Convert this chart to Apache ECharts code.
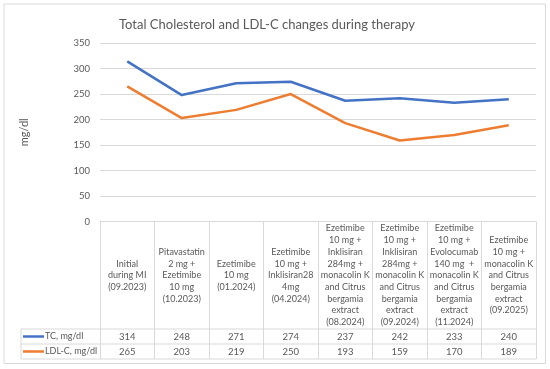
<!DOCTYPE html>
<html>
<head>
<meta charset="utf-8">
<script src="https://cdn.jsdelivr.net/npm/echarts@6/dist/echarts.min.js"></script>
<style>
html,body{margin:0;padding:0;background:#fff;}
#c{width:550px;height:369px;}
</style>
</head>
<body>
<div id="c"></div>
<script>
var titleText = 'Total Cholesterol and LDL-C changes during therapy';
var yAxisName = 'mg/dl';
var categories = [
  'Initial\nduring MI\n(09.2023)',
  'Pitavastatin\n2 mg +\nEzetimibe\n10 mg\n(10.2023)',
  'Ezetimibe\n10 mg\n(01.2024)',
  'Ezetimibe\n10 mg +\nInklisiran28\n4mg\n(04.2024)',
  'Ezetimibe\n10 mg +\nInklisiran\n284mg +\nmonacolin K\nand Citrus\nbergamia\nextract\n(08.2024)',
  'Ezetimibe\n10 mg +\nInklisiran\n284mg +\nmonacolin K\nand Citrus\nbergamia\nextract\n(09.2024)',
  'Ezetimibe\n10 mg +\nEvolocumab\n140 mg  +\nmonacolin K\nand Citrus\nbergamia\nextract\n(11.2024)',
  'Ezetimibe\n10 mg +\nmonacolin K\nand Citrus\nbergamia\nextract\n(09.2025)'
];
var seriesNames = ['TC, mg/dl', 'LDL-C, mg/dl'];
var tcValues = [314, 248, 271, 274, 237, 242, 233, 240];
var ldlValues = [265, 203, 219, 250, 193, 159, 170, 189];
var yTicks = [0, 50, 100, 150, 200, 250, 300, 350];

var FONT = 'Lato';
var TXT = '#595959';
var LINE = '#d9d9d9';
var gridLeft = 100, gridRight = 14, gridTop = 43, gridBottom = 147.3;
var W = 550, H = 369;
var axisY = H - gridBottom;           // 221.7
var headerH = 107.3;                  // header row height
var rowH = 15;
var tableLeft = 21;
var row1 = axisY + headerH, row2 = row1 + rowH, row3 = row2 + rowH;

var chart = echarts.init(document.getElementById('c'), null, {renderer: 'canvas'});
var option = {
  backgroundColor: '#fff',
  animation: false,
  title: {
    text: titleText, left: 114, top: 13,
    textStyle: {fontFamily: FONT, fontSize: 13, fontWeight: 'normal', color: TXT}
  },
  legend: [
    {data: [seriesNames[0]], left: 23, top: row1, orient: 'vertical', icon: 'rect', itemWidth: 21, itemHeight: 2.5, itemGap: 0,
     padding: 0, textStyle: {fontFamily: FONT, fontSize: 9, color: TXT, lineHeight: 15, padding: [0,0,0,-4]}},
    {data: [seriesNames[1]], left: 23, top: row2, orient: 'vertical', icon: 'rect', itemWidth: 21, itemHeight: 2.5, itemGap: 0,
     padding: 0, textStyle: {fontFamily: FONT, fontSize: 9, color: TXT, lineHeight: 15, padding: [0,0,0,-4]}}
  ],
  grid: {left: gridLeft, right: gridRight, top: gridTop, bottom: gridBottom, containLabel: false},
  xAxis: [
    {
      type: 'category', data: categories, boundaryGap: true,
      axisLine: {show: true, lineStyle: {color: LINE, width: 1}},
      axisTick: {show: true, length: headerH + 2 * rowH, lineStyle: {color: LINE, width: 1}},
      axisLabel: {interval: 0, fontFamily: FONT, fontSize: 9, color: TXT, lineHeight: 11.7,
                  align: 'center', verticalAlign: 'middle', margin: headerH / 2}
    },
    {
      type: 'category', data: categories, position: 'bottom', offset: headerH, boundaryGap: true,
      axisLine: {show: false}, axisTick: {show: false},
      axisLabel: {interval: 0, fontFamily: FONT, fontSize: 9.5, color: TXT, verticalAlign: 'middle', margin: rowH / 2,
                  formatter: function (v, i) { return String(tcValues[i]); }}
    },
    {
      type: 'category', data: categories, position: 'bottom', offset: headerH + rowH, boundaryGap: true,
      axisLine: {show: false}, axisTick: {show: false},
      axisLabel: {interval: 0, fontFamily: FONT, fontSize: 9.5, color: TXT, verticalAlign: 'middle', margin: rowH / 2,
                  formatter: function (v, i) { return String(ldlValues[i]); }}
    }
  ],
  yAxis: {
    type: 'value', min: yTicks[0], max: yTicks[yTicks.length - 1], interval: 50,
    name: yAxisName, nameLocation: 'middle', nameGap: 70, nameRotate: 90,
    nameTextStyle: {fontFamily: FONT, fontSize: 11, color: TXT},
    axisLine: {show: false}, axisTick: {show: false},
    axisLabel: {fontFamily: FONT, fontSize: 9.5, color: TXT, margin: 10},
    splitLine: {lineStyle: {color: LINE, width: 1}}
  },
  series: [
    {name: seriesNames[0], type: 'line', data: tcValues, xAxisIndex: 0, symbol: 'none',
     lineStyle: {color: '#4472C4', width: 2.5}, itemStyle: {color: '#4472C4'}},
    {name: seriesNames[1], type: 'line', data: ldlValues, xAxisIndex: 0, symbol: 'none',
     lineStyle: {color: '#ED7D31', width: 2.5}, itemStyle: {color: '#ED7D31'}}
  ],
  graphic: [
    {type: 'rect', silent: true, shape: {x: 4, y: 4, width: 541.5, height: 359.5},
     style: {fill: 'none', stroke: LINE, lineWidth: 1}},
    {type: 'line', silent: true, shape: {x1: tableLeft, y1: row1, x2: W - gridRight, y2: row1}, style: {stroke: LINE, lineWidth: 1}},
    {type: 'line', silent: true, shape: {x1: tableLeft, y1: row2, x2: W - gridRight, y2: row2}, style: {stroke: LINE, lineWidth: 1}},
    {type: 'line', silent: true, shape: {x1: tableLeft, y1: row3, x2: W - gridRight, y2: row3}, style: {stroke: LINE, lineWidth: 1}},
    {type: 'line', silent: true, shape: {x1: tableLeft, y1: row1, x2: tableLeft, y2: row3}, style: {stroke: LINE, lineWidth: 1}}
  ]
};
chart.setOption(option);
</script>
</body>
</html>
